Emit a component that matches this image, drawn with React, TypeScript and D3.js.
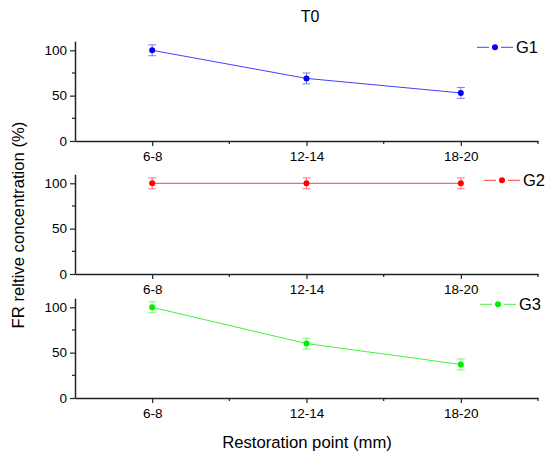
import { useEffect, useRef } from "react";
import * as d3 from "d3";

const categories = ["6-8", "12-14", "18-20"];
const seriesNames = ["G1", "G2", "G3"];
const seriesColors = ["#0000ff", "#ff0000", "#00ee00"];
const g1Values = [100, 69, 53];
const g1Errors = [6, 6, 6];
const g2Values = [100, 100, 100];
const g2Errors = [6, 6, 6];
const g3Values = [100, 60, 37];
const g3Errors = [6, 6, 6];
const yTicks = [0, 50, 100];

const App = () => {
  const chartRef = useRef<SVGSVGElement | null>(null);

  useEffect(() => {
    const width = 545;
    const height = 453;
    const svg = d3.select(chartRef.current);
    svg.selectAll("*").remove();

    const font = "'Liberation Sans', Arial, sans-serif";

    // x scale shared by all panels
    const xScale = d3.scaleLinear().domain([0.5, 3.5]).range([75, 538]);

    const panels = [
      { values: g1Values, errors: g1Errors, bottom: 141 },
      { values: g2Values, errors: g2Errors, bottom: 274 },
      { values: g3Values, errors: g3Errors, bottom: 398 },
    ];

    panels.forEach((p, i) => {
      const color = seriesColors[i];
      const yScale = d3
        .scaleLinear()
        .domain([0, 110])
        .range([p.bottom, p.bottom - 110 * 0.907]);

      const g = svg.append("g");

      // y axis
      const yAxis = d3
        .axisLeft(yScale)
        .tickValues(yTicks)
        .tickSize(5)
        .tickSizeOuter(0);
      const ya = g
        .append("g")
        .attr("transform", `translate(${xScale(0.5)},0)`)
        .call(yAxis);
      ya.selectAll("text")
        .style("font-family", font)
        .style("font-size", "13.5px")
        .attr("fill", "#000");
      ya.select(".domain").attr("stroke", "#222").attr("stroke-width", 1.5);
      ya.selectAll(".tick line").attr("stroke", "#222").attr("stroke-width", 1.2);

      // y minor ticks
      g.selectAll(".yminor")
        .data([25, 75])
        .enter()
        .append("line")
        .attr("x1", xScale(0.5) - 3)
        .attr("x2", xScale(0.5))
        .attr("y1", (d) => yScale(d))
        .attr("y2", (d) => yScale(d))
        .attr("stroke", "#222")
        .attr("stroke-width", 1.2);

      // x axis
      const xAxis = d3
        .axisBottom(xScale)
        .tickValues([1, 2, 3])
        .tickFormat((d) => categories[(d as number) - 1])
        .tickSize(5)
        .tickSizeOuter(0)
        .tickPadding(5);
      const xa = g
        .append("g")
        .attr("transform", `translate(0,${p.bottom})`)
        .call(xAxis);
      xa.selectAll("text")
        .style("font-family", font)
        .style("font-size", "13.5px")
        .attr("fill", "#000");
      xa.select(".domain").attr("stroke", "#222").attr("stroke-width", 1.5);
      xa.selectAll(".tick line").attr("stroke", "#222").attr("stroke-width", 1.2);

      // x minor ticks
      g.selectAll(".xminor")
        .data([1.5, 2.5, 3.5])
        .enter()
        .append("line")
        .attr("x1", (d) => xScale(d))
        .attr("x2", (d) => xScale(d))
        .attr("y1", p.bottom)
        .attr("y2", p.bottom + 3)
        .attr("stroke", "#222")
        .attr("stroke-width", 1.2);

      const pts = p.values.map((v, j) => ({ x: j + 1, v, e: p.errors[j] }));

      // line
      const line = d3
        .line<{ x: number; v: number }>()
        .x((d) => xScale(d.x))
        .y((d) => yScale(d.v));
      g.append("path")
        .datum(pts)
        .attr("d", line)
        .attr("fill", "none")
        .attr("stroke", color)
        .attr("stroke-opacity", 0.75)
        .attr("stroke-width", 1);

      // error bars
      const eb = g.selectAll(".eb").data(pts).enter().append("g");
      eb.append("line")
        .attr("x1", (d) => xScale(d.x))
        .attr("x2", (d) => xScale(d.x))
        .attr("y1", (d) => yScale(d.v - d.e))
        .attr("y2", (d) => yScale(d.v + d.e))
        .attr("stroke", color)
        .attr("stroke-opacity", 0.5);
      [1, -1].forEach((s) => {
        eb.append("line")
          .attr("x1", (d) => xScale(d.x) - 4)
          .attr("x2", (d) => xScale(d.x) + 4)
          .attr("y1", (d) => yScale(d.v + s * d.e))
          .attr("y2", (d) => yScale(d.v + s * d.e))
          .attr("stroke", color)
          .attr("stroke-opacity", 0.5);
      });

      // points
      g.selectAll(".pt")
        .data(pts)
        .enter()
        .append("circle")
        .attr("cx", (d) => xScale(d.x))
        .attr("cy", (d) => yScale(d.v))
        .attr("r", 3)
        .attr("fill", color);

      // legend
      const lx = [477, 484, 480][i];
      const ly = yScale(100) - 3;
      g.append("line")
        .attr("x1", lx)
        .attr("x2", lx + 36)
        .attr("y1", ly)
        .attr("y2", ly)
        .attr("stroke", color)
        .attr("stroke-opacity", 0.75);
      g.append("rect")
        .attr("x", lx + 12)
        .attr("y", ly - 2)
        .attr("width", 12)
        .attr("height", 4)
        .attr("fill", "#fff");
      g.append("circle")
        .attr("cx", lx + 18)
        .attr("cy", ly)
        .attr("r", 3)
        .attr("fill", color);
      g.append("text")
        .attr("x", lx + 39)
        .attr("y", ly)
        .attr("dy", "0.35em")
        .style("font-family", font)
        .style("font-size", "16.5px")
        .attr("fill", "#000")
        .text(seriesNames[i]);
    });

    // title
    svg
      .append("text")
      .attr("x", 310)
      .attr("y", 16)
      .attr("dy", "0.35em")
      .style("text-anchor", "middle")
      .style("font-family", font)
      .style("font-size", "16px")
      .text("T0");

    // x axis label
    svg
      .append("text")
      .attr("x", 307)
      .attr("y", 442)
      .attr("dy", "0.35em")
      .style("text-anchor", "middle")
      .style("font-family", font)
      .style("font-size", "16.7px")
      .text("Restoration point (mm)");

    // y axis label
    svg
      .append("text")
      .attr("transform", "rotate(-90)")
      .attr("x", -225)
      .attr("y", 18)
      .attr("dy", "0.35em")
      .style("text-anchor", "middle")
      .style("font-family", font)
      .style("font-size", "16.7px")
      .text("FR reltive concentration (%)");

    svg.attr("width", width).attr("height", height);
  }, []);

  return (
    <svg
      ref={chartRef}
      width={545}
      height={453}
      style={{ position: "absolute", left: 0, top: 0, background: "#fff" }}
    ></svg>
  );
};

export default App;
